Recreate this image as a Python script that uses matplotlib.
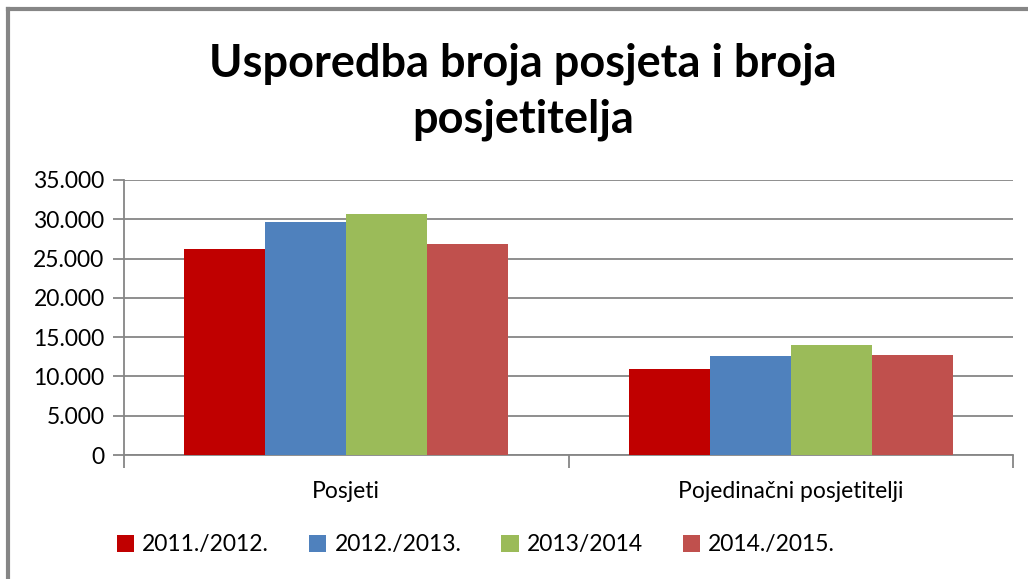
import numpy as np
import matplotlib.pyplot as plt
from matplotlib.lines import Line2D
from matplotlib.ticker import FuncFormatter

plt.rcParams['font.family'] = ['Lato', 'DejaVu Sans']

# data
categories = ['Posjeti', 'Pojedinačni posjetitelji']
seasons = ['2011./2012.', '2012./2013.', '2013/2014', '2014./2015.']
v_2011 = [26200, 10950]
v_2012 = [29650, 12600]
v_2013 = [30700, 14000]
v_2014 = [26850, 12750]
series = [v_2011, v_2012, v_2013, v_2014]
colors = ['#C00000', '#4F81BD', '#9BBB59', '#C0504D']

fig = plt.figure(figsize=(10.28, 5.79), dpi=100)
ax = fig.add_axes([124 / 1028, 1 - 455 / 579, (1013 - 124) / 1028, (455 - 180) / 579])

x = np.arange(len(categories))
w = 0.182
for i, (vals, c) in enumerate(zip(series, colors)):
    ax.bar(x + (i - 1.5) * w, vals, width=w, color=c, label=seasons[i], zorder=3)

ax.set_xlim(-0.5, 1.5)
ax.set_ylim(0, 35000)
ax.set_yticks(np.arange(0, 35001, 5000))
ax.yaxis.set_major_formatter(FuncFormatter(lambda v, p: f'{int(v):,}'.replace(',', '.')))
ax.grid(axis='y', color='#868686', linewidth=1.3, zorder=0)

ax.set_xticks(x)
ax.set_xticklabels(categories)
ax.set_xticks([-0.5, 0.5, 1.5], minor=True)
ax.tick_params(axis='x', which='major', length=0, pad=19, labelsize=16.5, colors='#000000')
ax.tick_params(axis='x', which='minor', length=9, width=1.3, color='#868686')
ax.tick_params(axis='y', length=8, width=1.3, color='#868686', labelsize=16.5, pad=6)

for s in ['top', 'right']:
    ax.spines[s].set_visible(False)
for s in ['left', 'bottom']:
    ax.spines[s].set_color('#868686')
    ax.spines[s].set_linewidth(1.3)

fig.text(523 / 1028, 1 - 64 / 579, 'Usporedba broja posjeta i broja', ha='center', va='center',
         fontsize=32.5, fontweight='bold')
fig.text(523 / 1028, 1 - 120 / 579, 'posjetitelja', ha='center', va='center',
         fontsize=32.5, fontweight='bold')

fig.legend(loc='center', bbox_to_anchor=(476 / 1028, 1 - 545 / 579), ncol=4, frameon=False,
           fontsize=16.5, handlelength=0.75, handleheight=0.75, handletextpad=0.35,
           columnspacing=1.75)

# chart area border (top and left visible)
fig.add_artist(Line2D([8 / 1028, 1], [1 - 9 / 579, 1 - 9 / 579], color='#868686', lw=3,
                      transform=fig.transFigure))
fig.add_artist(Line2D([8 / 1028, 8 / 1028], [0, 1 - 9 / 579], color='#868686', lw=3,
                      transform=fig.transFigure))

fig.savefig('out.png', dpi=100)
